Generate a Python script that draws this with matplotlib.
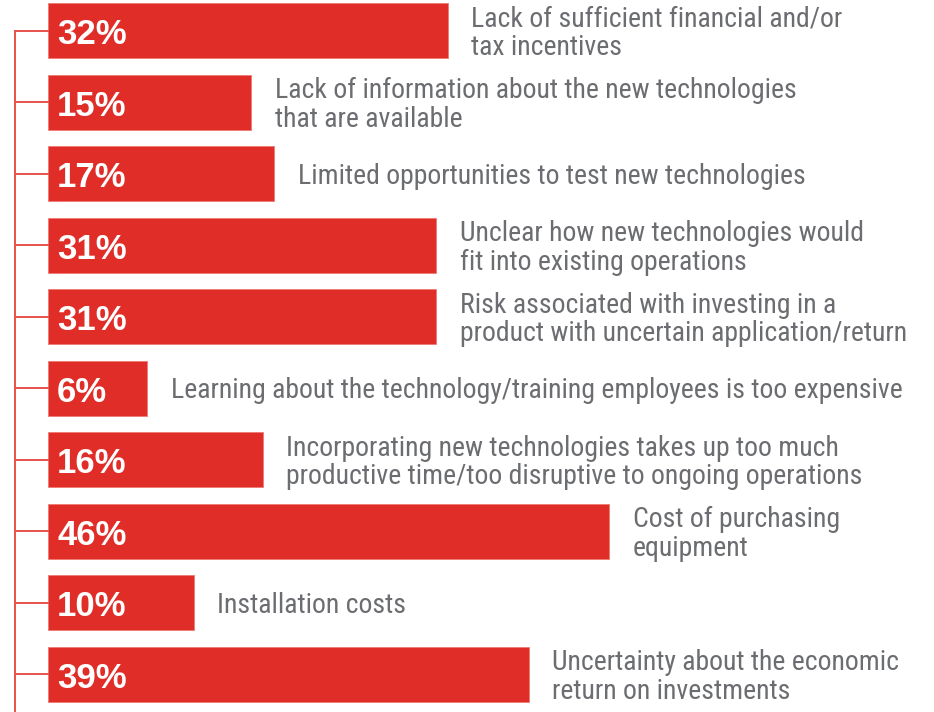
import matplotlib
matplotlib.use("Agg")
import matplotlib.pyplot as plt

# survey data, top to bottom
categories = [
    "Lack of sufficient financial and/or\ntax incentives",
    "Lack of information about the new technologies\nthat are available",
    "Limited opportunities to test new technologies",
    "Unclear how new technologies would\nfit into existing operations",
    "Risk associated with investing in a\nproduct with uncertain application/return",
    "Learning about the technology/training employees is too expensive",
    "Incorporating new technologies takes up too much\nproductive time/too disruptive to ongoing operations",
    "Cost of purchasing\nequipment",
    "Installation costs",
    "Uncertainty about the economic\nreturn on investments",
]
values = [32, 15, 17, 31, 31, 6, 16, 46, 10, 39]

red = "#e02d28"
grey = "#6b6d70"
bar_start = -2.6   # bars start a little left of zero to leave room for the label

fig = plt.figure(figsize=(9.34, 7.12), dpi=100)
ax = fig.add_axes([0, 0, 1, 1])

ypos = list(range(len(values)))
ax.barh(ypos, [v - bar_start for v in values], left=bar_start, height=0.77,
        color=red, edgecolor="#f07a74", linewidth=0.6)

# bracket line on the left
ax.plot([-5.45, -5.45], [0, 10.5], color="#e8524c", lw=1.4)
for y in ypos:
    ax.plot([-5.45, bar_start], [y, y], color="#e8524c", lw=1.4)

for y, v, c in zip(ypos, values, categories):
    ax.text(bar_start + 0.8, y + 0.06, f"{v}%", color="white", fontsize=25,
            fontweight="bold", family=["Liberation Sans", "DejaVu Sans"],
            ha="left", va="center")
    ax.annotate(c, xy=(v, y), xytext=(17, -2), textcoords="offset points",
                ha="left", va="center", color=grey, fontsize=20,
                family=["Roboto Condensed", "DejaVu Sans"],
                linespacing=1.08)

ax.set_xlim(-6.75, 74.1)
ax.set_ylim(9.53, -0.427)
ax.axis("off")

fig.savefig("out.png", dpi=100)
